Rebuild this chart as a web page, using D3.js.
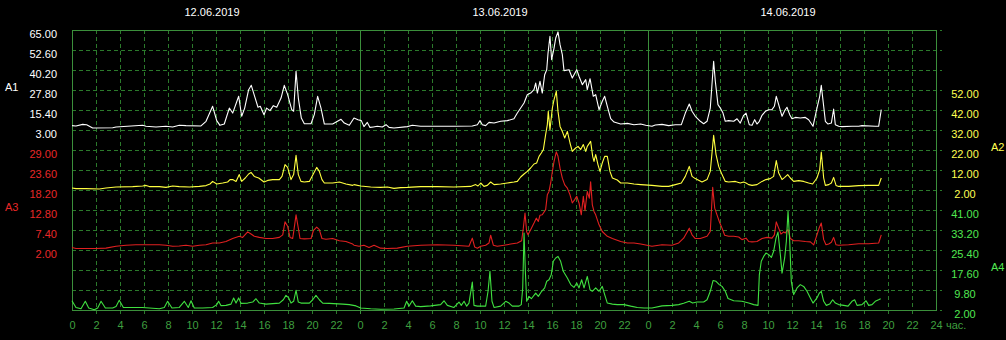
<!DOCTYPE html>
<html>
<head>
<meta charset="utf-8">
<script src="https://cdn.jsdelivr.net/npm/d3@7"></script>
<style>
  body { margin: 0; background: #000; }
  svg { display: block; font-family: "Liberation Sans", Arial, sans-serif; font-size: 11px; }
</style>
</head>
<body>
<div class="graph_container"></div>
<script>
const w = 1006;
const h = 340;

// days on the x axis, hours from the first midnight
const dates = ["12.06.2019", "13.06.2019", "14.06.2019"];
const hourTicks = d3.range(0, 73, 2);

// [hour, value]
const a1 = [[0,5.7],[0.33,5.5],[0.89,6.5],[1.22,6.3],[1.72,4.2],[3.39,4.4],[3.67,4.9],[5.89,5.9],[6.17,5.3],[7,4.9],[7.83,5.3],[8.39,4.9],[8.94,5.9],[9.5,5.7],[10.75,5.5],[11.17,8.4],[11.72,17.7],[12.06,8.8],[12.33,5.9],[12.69,6.7],[13.11,16.6],[13.39,13.5],[13.89,23.9],[14.14,11.5],[14.39,16.6],[14.72,28],[14.94,30.7],[15.22,23.9],[15.5,17.1],[15.69,17.7],[16,12.5],[16.22,16.6],[16.5,15],[16.78,18.1],[17.06,17.1],[17.42,22.8],[17.69,30.7],[17.97,24.9],[18.31,15.6],[18.47,14.6],[18.67,39.4],[18.86,22.8],[19.11,10.4],[19.36,6.9],[19.92,6.9],[20.19,12.5],[20.47,23.9],[20.75,16.6],[21.03,6.7],[21.72,6.7],[22.42,9.6],[22.69,7.3],[23.11,5.9],
  [23.5,10.4],[23.83,9.4],[24.11,8.8],[24.33,5.1],[24.61,7.7],[24.83,4.6],[25.11,4.9],[25.44,5.3],[25.86,4.9],[26.17,6.3],[26.42,4.6],[26.83,4.2],[27.94,5.1],[28.36,5.9],[29.06,5.3],[30.44,5.3],[31.83,5.3],[33.36,5.5],[33.78,6.3],[34,8.8],[34.19,6.3],[34.47,5.7],[34.75,7.7],[35.17,7.3],[35.72,8.4],[36.28,8.8],[36.83,10],[37.11,13.5],[37.39,16.6],[37.67,19.7],[37.94,24.9],[38.22,25.9],[38.5,28],[38.64,32.1],[38.78,25.9],[39,33.2],[39.19,25.9],[39.39,37.3],[39.56,40.4],[39.67,50.7],[39.83,61.1],[39.97,46.6],[40.17,53.8],[40.31,60],[40.5,63.8],[40.67,55.9],[40.86,49.7],[41,39.8],[41.42,40.4],[41.69,35.2],[42.06,40.4],[42.25,36.3],[42.53,31.1],[42.81,34.2],[42.94,28],[43.17,34.8],[43.44,23.9],[43.64,24.9],[43.92,15.6],[44.19,20.8],[44.39,23.9],[44.61,17.7],[44.89,10],[45.17,7.9],[45.72,6.7],[46.28,7.1],[46.83,6.3],[47.39,6.7],[47.81,5.9],[48.33,5.3],
  [48.61,6.1],[49.17,6.5],[49.72,5.7],[50.28,6.3],[50.78,6.3],[51.11,13.5],[51.44,19.1],[51.67,14.6],[51.94,11.5],[52.36,8.4],[52.64,6.9],[52.92,8.4],[53.19,16.6],[53.47,45.6],[53.61,33.2],[53.83,18.7],[54.03,16.6],[54.25,13.5],[54.44,8.4],[54.72,8.8],[55.14,8.4],[55.42,10],[55.69,7.3],[55.97,12.1],[56.17,13.5],[56.44,6.3],[56.67,5.9],[56.89,9.4],[57.08,6.7],[57.28,8.4],[57.5,12.1],[57.78,14.6],[58.06,15.6],[58.33,15.6],[58.53,17.7],[58.69,23.9],[58.89,18.7],[59.17,11.5],[59.39,15],[59.58,17.1],[59.81,12.5],[60,10],[60.28,10.8],[60.69,10.4],[61.11,10.8],[61.39,9.4],[61.75,5.3],[62.08,16.6],[62.31,23.9],[62.44,30.7],[62.64,17.7],[62.78,8.4],[63,6.7],[63.28,7.3],[63.47,16],[63.61,6.3],[63.89,5.3],[64.17,5.1],[65,5.3],[65.56,5.3],[65.83,5.7],[66.94,5.3],[67.22,5.3],[67.44,15.6]];

const a2 = [[0,3],[0.33,2.7],[1.17,2.7],[2.28,2.5],[2.83,3],[3.67,3.5],[5.06,3.7],[5.89,4],[6.17,4.3],[6.44,3.7],[7.28,3.7],[7.83,3.3],[8.39,4],[8.94,3.7],[9.78,3.5],[10.61,3.8],[11.17,4.2],[11.5,5],[11.72,6.3],[12.06,5],[12.56,5.5],[12.97,6],[13.17,7.2],[13.39,7.2],[13.67,6.3],[13.94,9.7],[14.14,6.3],[14.44,8],[14.72,10],[14.92,10.8],[15.19,8.8],[15.56,8],[16,6],[16.31,6.8],[16.72,7.2],[17.28,7.2],[17.5,8.8],[17.75,14.7],[17.97,13.3],[18.25,7.2],[18.47,9.7],[18.67,19.3],[18.86,9.7],[19.08,6.3],[19.36,6],[19.78,6.3],[20,8.8],[20.39,13.3],[20.61,11.3],[20.83,7.2],[21.03,5.5],[21.72,5.5],[22.28,6],[22.83,5],[23.39,4.3],
  [23.5,4.7],[24.06,4],[24.89,3.5],[25.72,3.3],[26.28,3.5],[26.83,2.8],[27.39,3.2],[27.94,3.3],[29.06,3.7],[30.44,3.7],[31.83,3.5],[33.22,3.8],[33.64,4.7],[33.83,4],[34.06,5.5],[34.33,3.8],[34.61,4.3],[34.89,6],[35.17,4.7],[35.72,5],[36.28,5.5],[36.83,6],[37.11,6.3],[37.39,8.5],[37.67,10],[37.94,11.3],[38.22,13],[38.5,15],[38.72,15.5],[38.92,18.8],[39.11,20.5],[39.28,22.2],[39.47,29.7],[39.61,34.7],[39.69,41.3],[39.83,32.2],[40.03,43],[40.17,47.2],[40.36,51.3],[40.5,41.3],[40.67,33.8],[40.86,31.3],[41.06,28],[41.28,31.3],[41.5,25.5],[41.69,21.3],[41.97,23],[42.17,23.8],[42.39,22.2],[42.61,24.7],[42.81,21.3],[42.94,23.8],[43.22,26.3],[43.39,18.8],[43.5,16.3],[43.64,19.7],[43.83,14.7],[44,11.3],[44.19,15.5],[44.39,18.8],[44.61,18.8],[44.83,11.3],[45.03,8],[45.44,7],[45.72,5.5],[46.28,5.5],[46.83,5],[47.39,4.7],[48.33,4.3],
  [49.17,3.8],[49.72,3.8],[50.28,4.7],[50.78,5.5],[51.11,8.8],[51.44,13.8],[51.67,8.8],[51.94,7.7],[52.5,6],[52.92,7.2],[53.19,11.3],[53.47,29.3],[53.67,19.7],[53.89,13.8],[54.17,9.7],[54.44,6.3],[54.72,6],[55.28,6.3],[55.69,5.5],[55.97,6],[56.17,5.5],[56.39,4.7],[56.67,4.3],[57.08,4.7],[57.5,6.3],[57.83,7.2],[58.19,7.7],[58.47,8.8],[58.69,16.7],[58.89,10.5],[59.17,7.2],[59.39,8.3],[59.64,9.7],[59.86,8],[60.14,6.3],[60.56,6.7],[60.97,6.3],[61.39,5.5],[61.72,5],[62.08,8],[62.31,12.2],[62.44,21],[62.64,8],[62.78,4.3],[63.06,4.7],[63.28,5.5],[63.47,8.3],[63.67,4.3],[63.89,3.8],[64.72,3.8],[65.56,4.2],[66.39,4.3],[67.22,4.3],[67.44,8]];

const a3 = [[0,2.7],[0.33,2.4],[2,2.4],[2.83,2.5],[3.67,3],[4.5,3.3],[5.33,3.4],[6.44,3.4],[7.28,3.4],[7.83,3.3],[8.39,3],[8.94,3.1],[9.5,3.3],[10.06,3],[10.61,3.3],[11.17,3.4],[11.72,3.9],[12.28,3.9],[12.83,4.3],[13.39,5.1],[13.94,5.7],[14.22,5.4],[14.64,6.9],[14.92,6.3],[15.19,5.7],[15.61,5.4],[16.17,5.1],[16.72,5.1],[17.28,5.4],[17.56,6.1],[17.75,9.6],[17.97,8.4],[18.17,5.4],[18.39,5.1],[18.5,7.5],[18.67,11.5],[18.86,7.9],[19,5.1],[19.36,5],[19.92,5.1],[20.11,7.2],[20.39,8.2],[20.61,7.5],[20.83,5.1],[21.17,4.9],[21.72,5.1],[22.28,4.5],[22.83,4.3],[23.39,3.6],
  [23.5,3.3],[23.92,3],[24.33,3.3],[24.75,2.7],[25.17,3.3],[25.72,2.5],[26.28,2.4],[27.11,2.5],[27.94,3],[29.06,3.3],[30.44,3.4],[31.83,3.3],[33.08,3],[33.36,5.2],[33.56,2.8],[33.78,2.5],[34.06,3],[34.47,3.3],[34.75,3.9],[34.89,6],[35.11,3.3],[35.44,3],[36,3.3],[36.56,3.6],[37.11,3.9],[37.47,4.5],[37.61,7.9],[37.75,12],[37.89,6.9],[38,6.1],[38.22,7.5],[38.5,9.3],[38.69,10.6],[38.86,9.7],[39,11.4],[39.19,11.5],[39.47,12.9],[39.61,16.9],[39.75,17.8],[39.89,20.1],[40.03,23.2],[40.17,25.9],[40.36,28.5],[40.5,27.3],[40.67,24.1],[40.86,21.4],[41.06,19.6],[41.28,18.7],[41.5,16.9],[41.69,14.7],[41.89,15.6],[42.06,16.5],[42.25,14.7],[42.44,11.5],[42.61,16.5],[42.75,12.6],[42.94,17.8],[43.11,16],[43.22,20.4],[43.36,14.2],[43.5,12.4],[43.64,11.5],[43.92,8.8],[44.19,7],[44.61,5.7],[45.03,5.1],[45.72,4.3],[46.28,3.9],[46.83,3.9],[47.39,3.6],[48.33,3],
  [49.17,3.4],[50,3.3],[50.56,3.9],[50.97,5.2],[51.44,7.9],[51.67,6.1],[51.94,5.1],[52.36,5.1],[52.92,5.7],[53.19,7],[53.39,18.9],[53.56,13.3],[53.75,11.5],[53.94,9.7],[54.17,7.9],[54.39,6],[54.72,5.7],[55.14,5.7],[55.56,5.5],[55.83,4.8],[56.17,5.2],[56.39,4.3],[56.67,4.2],[57.08,4.3],[57.5,5.1],[57.92,5.4],[58.33,5.2],[58.53,6.1],[58.69,9.6],[58.89,7.9],[59.08,6.3],[59.31,6.9],[59.44,6.6],[59.67,7.5],[59.86,5.1],[60.14,4.5],[60.56,4.5],[61.11,4.3],[61.53,4.2],[61.81,3.4],[62.08,6.1],[62.28,8.1],[62.44,9.3],[62.64,4.8],[62.83,3.4],[63.06,3.6],[63.28,4.1],[63.47,5.4],[63.67,3.4],[63.89,3.3],[64.72,3.4],[65.56,3.7],[66.39,3.7],[67.22,3.9],[67.44,6.1]];

const a4 = [[0,5.6],[0.33,3],[0.75,2.5],[1.11,5.4],[1.39,2.8],[1.86,2.1],[2.14,2.8],[2.42,5.4],[2.78,2.8],[3.39,2.8],[3.67,3.4],[3.94,5.8],[4.28,3],[5.89,3],[7.28,2.5],[7.69,3],[7.97,5.4],[8.33,2.8],[8.94,3],[9.36,5.4],[9.69,3],[9.92,5.6],[10.19,2.8],[10.89,2.8],[11.72,3],[12.06,4.1],[12.22,5.4],[12.42,3.7],[12.83,3.8],[13.25,4.3],[13.47,6.7],[13.67,4.7],[13.89,6.7],[14.08,4.6],[14.64,4.7],[15.06,5.1],[15.33,6.4],[15.61,4.7],[16.17,4.3],[17.28,4.7],[17.61,6],[17.83,7.7],[18.06,6.7],[18.25,4.7],[18.47,5.4],[18.67,9.7],[18.86,5.1],[19.08,4.7],[19.78,4.7],[20.06,6],[20.33,7.7],[20.61,6],[20.89,4.7],[21.44,4.6],[22.56,4.3],[23.11,4.1],[23.67,3.6],
  [24.06,2.8],[24.89,2.5],[25.72,2.3],[26.83,2.4],[27.67,2.8],[27.89,5.4],[28.08,3.5],[28.36,5.6],[28.64,3.5],[29.06,3.3],[29.89,3.6],[30.72,4.1],[31,5.6],[31.28,3.8],[31.83,3],[32.25,5.1],[32.44,3.8],[32.67,5.4],[32.89,3.5],[33.08,4.7],[33.36,12.9],[33.5,3.8],[33.78,3.5],[34.47,3.5],[34.67,9.3],[34.83,17.1],[35,5.4],[35.17,3],[35.72,3.5],[36.14,5.4],[36.42,4.7],[36.69,3.5],[37.25,3.5],[37.44,4.1],[37.56,10.6],[37.67,32],[37.78,17.1],[37.89,5.4],[38.08,7.3],[38.28,6.4],[38.64,8.6],[38.86,7.3],[39.14,9.3],[39.39,10.6],[39.56,13.2],[39.75,13.8],[39.94,15.8],[40.11,21],[40.31,22.3],[40.5,22.9],[40.72,21],[40.94,17.1],[41.28,14.5],[41.56,11.9],[41.83,10.8],[42.06,12.5],[42.25,10.6],[42.47,13.8],[42.67,10.6],[42.94,15.1],[43.17,9.9],[43.36,9.3],[43.64,10.6],[43.92,9.3],[44.19,11.2],[44.39,8],[44.61,4.7],[45.03,4.3],[45.44,4.1],[46,4.1],[46.56,3.5],[47.11,3],[47.67,2.8],[48.33,2.8],
  [49.17,3.6],[50,3.8],[50.56,4.1],[50.97,4.6],[51.44,5.4],[51.72,4.7],[52.08,5.1],[52.64,5.1],[52.92,6],[53.19,9.3],[53.42,13.5],[53.67,13.2],[53.94,11.9],[54.17,11.2],[54.44,9.3],[54.67,6.5],[55.14,5.6],[55.83,5.4],[56.39,4.7],[56.81,4.1],[57.17,3.8],[57.28,15.8],[57.44,21],[57.64,22.9],[57.83,24.2],[58.06,23.6],[58.28,22.5],[58.47,24.9],[58.67,30.1],[58.83,32.4],[59.03,23.6],[59.17,16.4],[59.39,22.3],[59.53,28.8],[59.67,40.5],[59.81,28.8],[59.94,13.2],[60.14,8],[60.42,10.6],[60.69,11.9],[60.97,11.2],[61.25,9.3],[61.53,6.7],[61.75,4.7],[62.08,6.7],[62.28,8.6],[62.44,9.3],[62.64,5.4],[62.86,3.8],[63.14,4.3],[63.39,6],[63.61,4.7],[63.89,4.1],[64.31,3.8],[64.67,3.5],[65,5.4],[65.22,6],[65.42,3.8],[65.83,4.1],[66.17,5.6],[66.39,3.8],[66.67,4.1],[66.94,5.4],[67.22,6],[67.39,6.4]];

const seriesNames = ["A1", "A2", "A3", "A4"];
const seriesDomains = [[3, 65], [2, 52], [2, 29], [2, 41]];

const series = [
  { name: "A1", data: a1, domain: seriesDomains[0], range: [130, 30], color: "#ffffff", text: "#ffffff", side: "left", labelY: 91 },
  { name: "A2", data: a2, domain: seriesDomains[1], range: [190, 90], color: "#ffff40", text: "#ffff50", side: "right", labelY: 151 },
  { name: "A3", data: a3, domain: seriesDomains[2], range: [250, 150], color: "#e02020", text: "#e82828", side: "left", labelY: 211 },
  { name: "A4", data: a4, domain: seriesDomains[3], range: [310, 210], color: "#40e040", text: "#50e850", side: "right", labelY: 271 }
];

const plot = { left: 72, right: 936, top: 30, bottom: 310 };
const gridDim = "#2b7a2b";
const gridSolid = "#3b8f3b";

const svg = d3.select(".graph_container").append("svg").attr("width", w).attr("height", h);
svg.append("rect").attr("width", w).attr("height", h).attr("fill", "#000");

const xScale = d3.scaleLinear().domain([0, 72]).range([plot.left, plot.right]);
const rowScale = d3.scaleLinear().domain([0, 14]).range([plot.top, plot.bottom]);

// dashed grid
const grid = svg.append("g").attr("shape-rendering", "crispEdges");
grid.selectAll(".hgrid")
  .data(d3.range(0, 15))
  .enter()
  .append("line")
  .attr("x1", plot.left).attr("x2", plot.right + 6)
  .attr("y1", d => Math.round(rowScale(d)) + 0.5)
  .attr("y2", d => Math.round(rowScale(d)) + 0.5)
  .attr("stroke", gridDim)
  .attr("stroke-dasharray", "4,3");

grid.selectAll(".vgrid")
  .data(hourTicks.filter(d => d % 24 != 0))
  .enter()
  .append("line")
  .attr("x1", d => Math.round(xScale(d)) + 0.5)
  .attr("x2", d => Math.round(xScale(d)) + 0.5)
  .attr("y1", plot.top).attr("y2", plot.bottom + 4)
  .attr("stroke", gridDim)
  .attr("stroke-dasharray", "4,3");

// solid frame and day separators
grid.append("rect")
  .attr("x", plot.left + 0.5).attr("y", plot.top + 0.5)
  .attr("width", plot.right - plot.left).attr("height", plot.bottom - plot.top)
  .attr("fill", "none").attr("stroke", gridSolid);

grid.selectAll(".day")
  .data([24, 48])
  .enter()
  .append("line")
  .attr("x1", d => Math.round(xScale(d)) + 0.5)
  .attr("x2", d => Math.round(xScale(d)) + 0.5)
  .attr("y1", plot.top).attr("y2", plot.bottom + 4)
  .attr("stroke", gridSolid);

// date labels
svg.selectAll(".date")
  .data(dates)
  .enter()
  .append("text")
  .attr("x", (d, i) => xScale(i * 24 + 12) - 4)
  .attr("y", 16)
  .attr("text-anchor", "middle")
  .attr("fill", "#ffffff")
  .text(d => d);

// x axis labels
const xAxis = d3.axisBottom(xScale)
  .tickValues(hourTicks)
  .tickFormat(d => d == 72 ? 24 : d % 24)
  .tickSize(0)
  .tickPadding(0);

const xg = svg.append("g")
  .attr("transform", "translate(0," + 321 + ")")
  .call(xAxis);
xg.select(".domain").remove();
xg.selectAll("text").attr("fill", "#3f9f3f").attr("dy", "0.71em").style("font-size", "11px").style("font-family", "inherit");

svg.append("text")
  .attr("x", xScale(72) + 10)
  .attr("y", 329)
  .attr("fill", "#3f9f3f")
  .text("час.");

// lines and value axes
series.forEach(s => {
  const yScale = d3.scaleLinear().domain(s.domain).range(s.range);
  const ticks = d3.range(6).map(i => s.domain[0] + i * (s.domain[1] - s.domain[0]) / 5);

  const axis = (s.side == "left" ? d3.axisLeft(yScale) : d3.axisRight(yScale))
    .tickValues(ticks)
    .tickFormat(d3.format(".2f"))
    .tickSize(0)
    .tickPadding(0);

  const g = svg.append("g")
    .attr("transform", "translate(" + (s.side == "left" ? 57 : 965) + ",0)")
    .call(axis);
  g.select(".domain").remove();
  g.selectAll("text")
    .attr("fill", s.text)
    .attr("dy", "0.72em")
    .attr("text-anchor", s.side == "left" ? "end" : "middle")
    .style("font-size", "11px")
    .style("font-family", "inherit");

  svg.append("text")
    .attr("x", s.side == "left" ? 5 : 991)
    .attr("y", s.labelY)
    .attr("fill", s.text)
    .text(s.name);

  const line = d3.line()
    .x(d => xScale(d[0]))
    .y(d => yScale(d[1]));

  svg.append("path")
    .datum(s.data)
    .attr("d", line)
    .attr("fill", "none")
    .attr("stroke", s.color)
    .attr("stroke-width", 1.1)
    .attr("stroke-linejoin", "round");
});
</script>
</body>
</html>
